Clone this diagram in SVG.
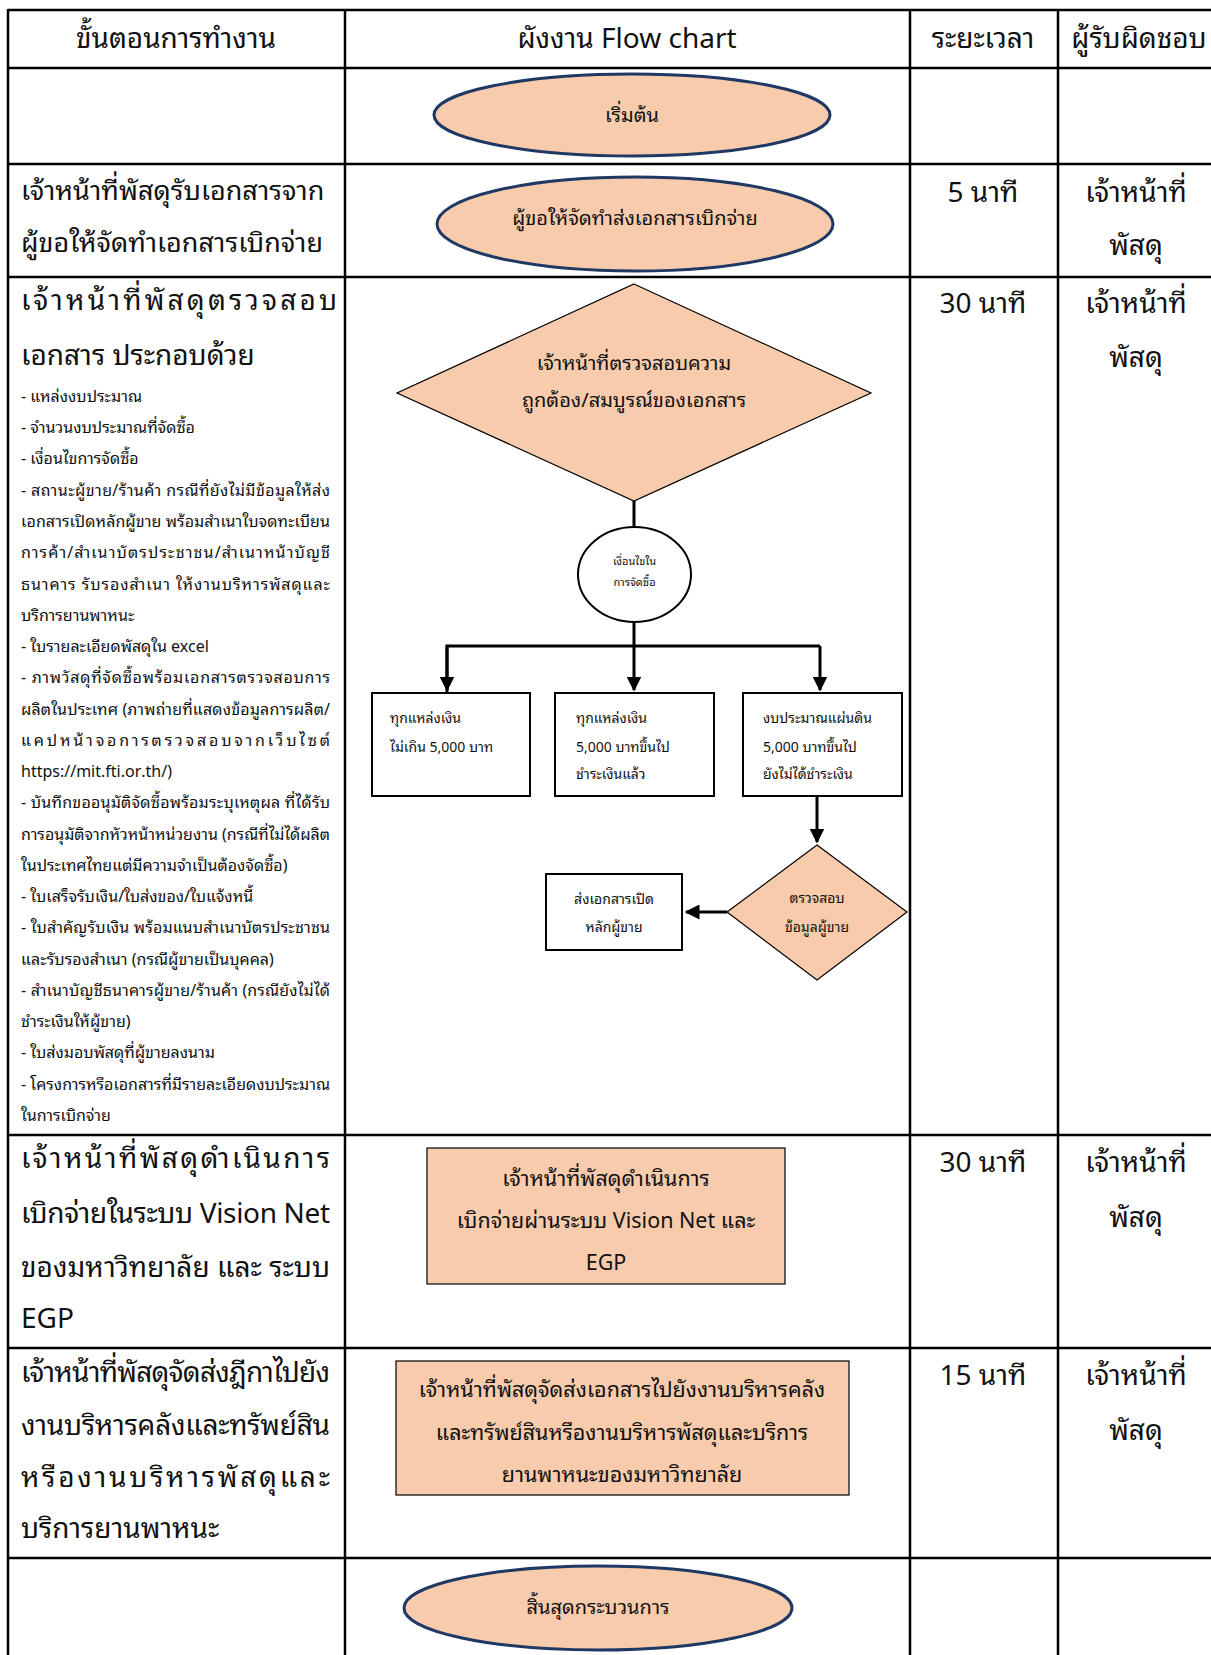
<svg xmlns="http://www.w3.org/2000/svg" width="1211" height="1655" viewBox="0 0 1211 1655">
<defs>
<style>
text{font-family:"Noto Sans Thai Looped","Noto Sans Thai","Noto Sans","Leelawadee UI","DejaVu Sans",sans-serif;fill:#111;}
.h{font-size:28px;}
.h27{font-size:27px;}
.c{text-anchor:middle;}
.li{font-size:16px;}
.f22{font-size:21.5px;}
.f20{font-size:20px;}
.f14{font-size:14px;}
.f11{font-size:11px;}
.grid{stroke:#000;stroke-width:2.5;fill:none;}
.term{fill:#F8CBAD;stroke:#1F3864;stroke-width:3;}
.peach{fill:#F8CBAD;stroke:#000;stroke-width:1.2;}
.box{fill:#fff;stroke:#000;stroke-width:2;}
.conn{stroke:#000;stroke-width:3;fill:none;}
</style>
<marker id="arr" viewBox="0 0 10 10" refX="9" refY="5" markerWidth="5" markerHeight="5" markerUnits="strokeWidth" orient="auto">
<path d="M0,0 L10,5 L0,10 z" fill="#000"/>
</marker>
</defs>
<rect width="1211" height="1655" fill="#fff"/>

<g id="table">
<line class="grid" x1="8" y1="10" x2="1211" y2="10"/>
<line class="grid" x1="8" y1="68" x2="1211" y2="68"/>
<line class="grid" x1="8" y1="164" x2="1211" y2="164"/>
<line class="grid" x1="8" y1="277" x2="1211" y2="277"/>
<line class="grid" x1="8" y1="1135" x2="1211" y2="1135"/>
<line class="grid" x1="8" y1="1348" x2="1211" y2="1348"/>
<line class="grid" x1="8" y1="1558" x2="1211" y2="1558"/>
<line class="grid" x1="8" y1="9" x2="8" y2="1655"/>
<line class="grid" x1="345" y1="9" x2="345" y2="1655"/>
<line class="grid" x1="910" y1="9" x2="910" y2="1655"/>
<line class="grid" x1="1058" y1="9" x2="1058" y2="1655"/>
</g>

<g id="header">
<text class="h c" x="176" y="48">ขั้นตอนการทำงาน</text>
<text class="h c" x="627" y="48">ผังงาน Flow chart</text>
<text class="h c" x="983" y="48">ระยะเวลา</text>
<text class="h c" x="1139" y="48">ผู้รับผิดชอบ</text>
</g>

<g id="steps">
<text class="h27" x="21" y="200">เจ้าหน้าที่พัสดุรับเอกสารจาก</text>
<text class="h27" x="21" y="252">ผู้ขอให้จัดทำเอกสารเบิกจ่าย</text>

<text class="h" x="21" y="310" textLength="316" lengthAdjust="spacing">เจ้าหน้าที่พัสดุตรวจสอบ</text>
<text class="h" x="21" y="365">เอกสาร ประกอบด้วย</text>
<g class="li">
<text x="21" y="402">- แหล่งงบประมาณ</text>
<text x="21" y="433">- จำนวนงบประมาณที่จัดซื้อ</text>
<text x="21" y="464">- เงื่อนไขการจัดซื้อ</text>
<text x="21" y="496" textLength="309" lengthAdjust="spacing">- สถานะผู้ขาย/ร้านค้า กรณีที่ยังไม่มีข้อมูลให้ส่ง</text>
<text x="21" y="527" textLength="309" lengthAdjust="spacing">เอกสารเปิดหลักผู้ขาย พร้อมสำเนาใบจดทะเบียน</text>
<text x="21" y="558" textLength="309" lengthAdjust="spacing">การค้า/สำเนาบัตรประชาชน/สำเนาหน้าบัญชี</text>
<text x="21" y="590" textLength="309" lengthAdjust="spacing">ธนาคาร รับรองสำเนา ให้งานบริหารพัสดุและ</text>
<text x="21" y="621">บริการยานพาหนะ</text>
<text x="21" y="652">- ใบรายละเอียดพัสดุใน excel</text>
<text x="21" y="683" textLength="309" lengthAdjust="spacing">- ภาพวัสดุที่จัดซื้อพร้อมเอกสารตรวจสอบการ</text>
<text x="21" y="715" textLength="309" lengthAdjust="spacing">ผลิตในประเทศ (ภาพถ่ายที่แสดงข้อมูลการผลิต/</text>
<text x="21" y="746" textLength="309" lengthAdjust="spacing">แคปหน้าจอการตรวจสอบจากเว็บไซต์</text>
<text x="21" y="777">https://mit.fti.or.th/)</text>
<text x="21" y="808" textLength="309" lengthAdjust="spacing">- บันทึกขออนุมัติจัดซื้อพร้อมระบุเหตุผล ที่ได้รับ</text>
<text x="21" y="840" textLength="309" lengthAdjust="spacing">การอนุมัติจากหัวหน้าหน่วยงาน (กรณีที่ไม่ได้ผลิต</text>
<text x="21" y="871">ในประเทศไทยแต่มีความจำเป็นต้องจัดซื้อ)</text>
<text x="21" y="902">- ใบเสร็จรับเงิน/ใบส่งของ/ใบแจ้งหนี้</text>
<text x="21" y="933" textLength="309" lengthAdjust="spacing">- ใบสำคัญรับเงิน พร้อมแนบสำเนาบัตรประชาชน</text>
<text x="21" y="965">และรับรองสำเนา (กรณีผู้ขายเป็นบุคคล)</text>
<text x="21" y="996" textLength="309" lengthAdjust="spacing">- สำเนาบัญชีธนาคารผู้ขาย/ร้านค้า (กรณียังไม่ได้</text>
<text x="21" y="1027">ชำระเงินให้ผู้ขาย)</text>
<text x="21" y="1058">- ใบส่งมอบพัสดุที่ผู้ขายลงนาม</text>
<text x="21" y="1090" textLength="309" lengthAdjust="spacing">- โครงการหรือเอกสารที่มีรายละเอียดงบประมาณ</text>
<text x="21" y="1121">ในการเบิกจ่าย</text>
</g>

<text class="h" x="21" y="1168" textLength="309" lengthAdjust="spacing">เจ้าหน้าที่พัสดุดำเนินการ</text>
<text class="h" x="21" y="1223" textLength="309" lengthAdjust="spacing">เบิกจ่ายในระบบ Vision Net</text>
<text class="h" x="21" y="1277" textLength="309" lengthAdjust="spacing">ของมหาวิทยาลัย และ ระบบ</text>
<text class="h" x="21" y="1328">EGP</text>

<text class="h" x="21" y="1382" textLength="309" lengthAdjust="spacing">เจ้าหน้าที่พัสดุจัดส่งฎีกาไปยัง</text>
<text class="h" x="21" y="1435" textLength="309" lengthAdjust="spacing">งานบริหารคลังและทรัพย์สิน</text>
<text class="h" x="21" y="1487" textLength="309" lengthAdjust="spacing">หรืองานบริหารพัสดุและ</text>
<text class="h" x="21" y="1538">บริการยานพาหนะ</text>
</g>

<g id="times">
<text class="h c" x="983" y="202">5 นาที</text>
<text class="h c" x="983" y="313">30 นาที</text>
<text class="h c" x="983" y="1172">30 นาที</text>
<text class="h c" x="983" y="1385">15 นาที</text>
</g>

<g id="owners">
<text class="h c" x="1136" y="202">เจ้าหน้าที่</text>
<text class="h c" x="1136" y="255">พัสดุ</text>
<text class="h c" x="1136" y="313">เจ้าหน้าที่</text>
<text class="h c" x="1136" y="367">พัสดุ</text>
<text class="h c" x="1136" y="1172">เจ้าหน้าที่</text>
<text class="h c" x="1136" y="1227">พัสดุ</text>
<text class="h c" x="1136" y="1385">เจ้าหน้าที่</text>
<text class="h c" x="1136" y="1440">พัสดุ</text>
</g>

<g id="connectors">
<line class="conn" x1="634" y1="501" x2="634" y2="527"/>
<line class="conn" x1="634" y1="622" x2="634" y2="646"/>
<polyline class="conn" points="447,693 447,646 820,646"/>
<line class="conn" x1="447" y1="646" x2="447" y2="690" marker-end="url(#arr)"/>
<line class="conn" x1="634" y1="646" x2="634" y2="690" marker-end="url(#arr)"/>
<line class="conn" x1="820" y1="646" x2="820" y2="690" marker-end="url(#arr)"/>
<line class="conn" x1="817" y1="796" x2="817" y2="842" marker-end="url(#arr)"/>
<line class="conn" x1="727" y1="912" x2="686" y2="912" marker-end="url(#arr)"/>
</g>

<g id="start">
<ellipse class="term" cx="632" cy="115" rx="198" ry="41"/>
<text class="f20 c" x="632" y="122">เริ่มต้น</text>
</g>

<g id="request">
<ellipse class="term" cx="635" cy="224" rx="198" ry="47"/>
<text class="f20 c" x="635" y="225">ผู้ขอให้จัดทำส่งเอกสารเบิกจ่าย</text>
</g>

<g id="check">
<polygon class="peach" points="634,284 871,393 634,501 397,393"/>
<text class="f20 c" x="634" y="370">เจ้าหน้าที่ตรวจสอบความ</text>
<text class="f20 c" x="634" y="407">ถูกต้อง/สมบูรณ์ของเอกสาร</text>
</g>

<g id="condition">
<ellipse cx="634.5" cy="574.5" rx="56.5" ry="47.5" fill="#fff" stroke="#000" stroke-width="2"/>
<text class="f11 c" x="634.5" y="565">เงื่อนไขใน</text>
<text class="f11 c" x="634.5" y="586">การจัดซื้อ</text>
</g>

<g id="opt1">
<rect class="box" x="372" y="693" width="158" height="103"/>
<text class="f14" x="390" y="723">ทุกแหล่งเงิน</text>
<text class="f14" x="390" y="752">ไม่เกิน 5,000 บาท</text>
</g>

<g id="opt2">
<rect class="box" x="555" y="693" width="159" height="103"/>
<text class="f14" x="576" y="723">ทุกแหล่งเงิน</text>
<text class="f14" x="576" y="752">5,000 บาทขึ้นไป</text>
<text class="f14" x="576" y="779">ชำระเงินแล้ว</text>
</g>

<g id="opt3">
<rect class="box" x="743" y="693" width="159" height="103"/>
<text class="f14" x="763" y="723">งบประมาณแผ่นดิน</text>
<text class="f14" x="763" y="752">5,000 บาทขึ้นไป</text>
<text class="f14" x="763" y="779">ยังไม่ได้ชำระเงิน</text>
</g>

<g id="vendor-check">
<polygon class="peach" points="817,845 907,912 817,980 727,912"/>
<text class="f14 c" x="817" y="903">ตรวจสอบ</text>
<text class="f14 c" x="817" y="932">ข้อมูลผู้ขาย</text>
</g>

<g id="vendor-docs">
<rect class="box" x="546" y="874" width="136" height="76"/>
<text class="f14 c" x="614" y="904">ส่งเอกสารเปิด</text>
<text class="f14 c" x="614" y="932">หลักผู้ขาย</text>
</g>

<g id="disburse">
<rect class="peach" x="427" y="1148" width="358" height="136"/>
<text class="f22 c" x="606" y="1186">เจ้าหน้าที่พัสดุดำเนินการ</text>
<text class="f22 c" x="606" y="1228">เบิกจ่ายผ่านระบบ Vision Net และ</text>
<text class="f22 c" x="606" y="1270">EGP</text>
</g>

<g id="send">
<rect class="peach" x="396" y="1361" width="453" height="134"/>
<text class="f22 c" x="622" y="1397">เจ้าหน้าที่พัสดุจัดส่งเอกสารไปยังงานบริหารคลัง</text>
<text class="f22 c" x="622" y="1440">และทรัพย์สินหรืองานบริหารพัสดุและบริการ</text>
<text class="f22 c" x="622" y="1482">ยานพาหนะของมหาวิทยาลัย</text>
</g>

<g id="end">
<ellipse class="term" cx="598" cy="1608" rx="194" ry="42"/>
<text class="f20 c" x="598" y="1614">สิ้นสุดกระบวนการ</text>
</g>
</svg>
